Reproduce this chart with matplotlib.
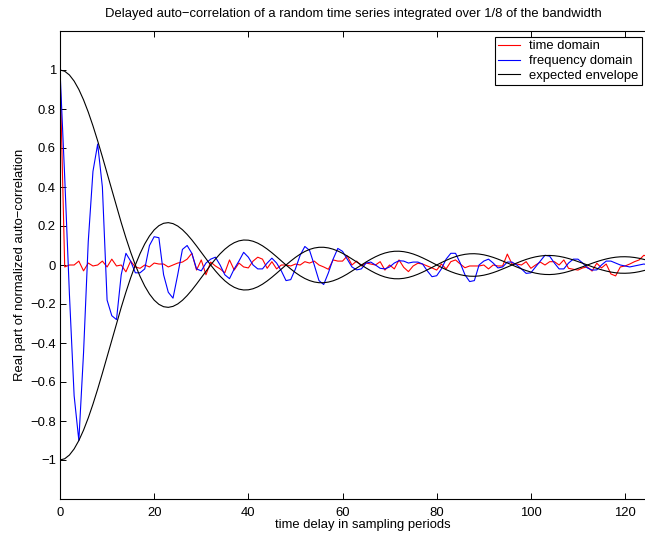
import matplotlib
matplotlib.use('Agg')
import matplotlib.pyplot as plt
from matplotlib.ticker import FuncFormatter

plt.rcParams['font.family'] = ['Liberation Sans', 'DejaVu Sans']
plt.rcParams['font.size'] = 9.4

# delays in sampling periods
lags = list(range(128))

# time domain estimate
time_dom = [1.0, -0.01, 0.0, 0.0, 0.02, -0.03, 0.01, -0.005, 0.0, 0.02,
            -0.01, 0.03, -0.005, 0.0, -0.035, 0.02, -0.01, -0.017, 0.0, -0.01,
            0.01, 0.005, 0.005, -0.01, 0.0, 0.01, 0.015, 0.03, 0.06, -0.026,
            0.026, -0.05, 0.015, -0.005, -0.02, -0.04, 0.026, -0.026, 0.01, -0.01,
            -0.015, 0.02, 0.04, 0.03, -0.017, 0.017, -0.02, 0.0, 0.0, -0.005,
            0.005, 0.0, 0.017, 0.01, 0.02, 0.0, -0.01, -0.022, 0.026, 0.02,
            0.02, 0.046, 0.0, 0.02, -0.005, 0.01, 0.005, 0.0, 0.017, -0.026,
            0.0, -0.02, 0.026, -0.012, -0.034, -0.005, 0.009, 0.005, -0.005, -0.015,
            -0.026, 0.005, -0.02, 0.017, 0.026, 0.005, -0.014, -0.005, -0.005, -0.005,
            0.0, -0.02, 0.0, -0.005, -0.005, 0.056, 0.005, 0.005, 0.0, 0.017,
            -0.017, 0.0, 0.015, 0.0, 0.017, 0.017, 0.0, 0.026, -0.017, -0.022,
            -0.026, -0.015, -0.01, -0.031, 0.009, -0.015, 0.005, -0.046, -0.056, -0.01,
            -0.005, 0.005, 0.017, 0.026, 0.05, 0.04, 0.02, 0.03]

# frequency domain estimate
freq_dom = [1.0, 0.45, -0.15, -0.67, -0.90, -0.45, 0.12, 0.48, 0.62, 0.40,
            -0.18, -0.26, -0.28, -0.05, 0.06, 0.02, -0.04, -0.04, -0.02, 0.10,
            0.145, 0.14, -0.05, -0.14, -0.17, -0.05, 0.08, 0.10, 0.06, -0.02,
            -0.03, 0.01, 0.03, 0.04, 0.0, -0.05, -0.07, -0.02, 0.02, 0.065,
            0.04, 0.0, -0.02, -0.02, 0.01, 0.035, 0.01, -0.03, -0.08, -0.075,
            -0.02, 0.05, 0.095, 0.075, 0.0, -0.08, -0.10, -0.04, 0.03, 0.085,
            0.07, 0.03, -0.01, -0.025, -0.02, 0.01, 0.015, 0.0, -0.017, -0.02,
            -0.01, 0.01, 0.022, 0.02, 0.01, 0.015, 0.015, 0.005, -0.03, -0.06,
            -0.055, -0.02, 0.03, 0.06, 0.06, 0.01, -0.05, -0.085, -0.08, 0.0,
            0.02, 0.03, 0.01, -0.015, -0.01, 0.015, 0.015, 0.0, -0.02, -0.043,
            -0.04, -0.01, 0.02, 0.05, 0.045, 0.01, -0.02, -0.02, 0.01, 0.03,
            0.03, 0.01, -0.015, -0.026, -0.025, 0.0, 0.02, 0.02, 0.01, 0.0,
            -0.005, -0.01, -0.005, 0.0, 0.005, 0.0, 0.01, 0.01]

# expected envelope
envelope = [1.0, 0.9936, 0.9745, 0.9432, 0.9003, 0.8469, 0.7842, 0.7136, 0.6366, 0.5550,
            0.4705, 0.3850, 0.3001, 0.2177, 0.1392, 0.0662, 0.0, -0.0584, -0.1083, -0.1489,
            -0.1801, -0.2017, -0.2139, -0.2172, -0.2122, -0.1998, -0.1810, -0.1568, -0.1286, -0.0976,
            -0.0650, -0.0321, 0.0, 0.0301, 0.0573, 0.0808, 0.1000, 0.1144, 0.1238, 0.1281,
            0.1273, 0.1218, 0.1120, 0.0985, 0.0818, 0.0629, 0.0424, 0.0211, 0.0, -0.0203,
            -0.0390, -0.0555, -0.0693, -0.0799, -0.0871, -0.0908, -0.0909, -0.0876, -0.0811, -0.0718,
            -0.0600, -0.0464, -0.0314, -0.0158, 0.0, 0.0153, 0.0295, 0.0422, 0.0530, 0.0614,
            0.0672, 0.0704, 0.0707, 0.0684, 0.0636, 0.0565, 0.0474, 0.0367, 0.0250, 0.0126,
            0.0, -0.0123, -0.0238, -0.0341, -0.0429, -0.0498, -0.0547, -0.0574, -0.0579, -0.0561,
            -0.0523, -0.0465, -0.0391, -0.0304, -0.0207, -0.0105, 0.0, 0.0102, 0.0199, 0.0286,
            0.0360, 0.0419, 0.0461, 0.0485, 0.0490, 0.0476, 0.0444, 0.0396, 0.0333, 0.0260,
            0.0177, 0.0090, 0.0, -0.0088, -0.0171, -0.0246, -0.0310, -0.0362, -0.0399, -0.0420,
            -0.0424, -0.0413, -0.0386, -0.0344, -0.0290, -0.0226, -0.0155, -0.0078]

x_ticks = [0, 20, 40, 60, 80, 100, 120]
y_ticks = [-1, -0.8, -0.6, -0.4, -0.2, 0, 0.2, 0.4, 0.6, 0.8, 1]

fig = plt.figure(figsize=(6.45, 5.37), dpi=100)
# axes run past the right edge of the figure, like the cropped original
ax = fig.add_axes([60 / 645, 38 / 537, 598 / 645, 468 / 537])

ax.plot(lags, time_dom, color='red', lw=0.8, label='time domain')
ax.plot(lags, freq_dom, color='blue', lw=0.8, label='frequency domain')
ax.plot(lags, envelope, color='black', lw=0.8, label='expected envelope')
ax.plot(lags, [-v for v in envelope], color='black', lw=0.8)

ax.set_xlim(0, 127)
ax.set_ylim(-1.2, 1.2)
ax.set_xticks(x_ticks)
ax.set_yticks(y_ticks)
ax.yaxis.set_major_formatter(FuncFormatter(lambda v, p: ('%g' % v).replace('-', '\u2212')))
ax.tick_params(direction='in', top=True, right=True, length=4, width=0.7)
ax.tick_params(axis='y', pad=3)
ax.tick_params(axis='x', pad=6)
for s in ax.spines.values():
    s.set_linewidth(0.8)

ax.set_xlabel('time delay in sampling periods')
ax.set_ylabel('Real part of normalized auto\u2212correlation')
ax.xaxis.set_label_coords((363 - 60) / 598, -(525 - 499) / 468)
ax.yaxis.set_label_coords(-(60 - 20) / 598, 0.5)
ax.xaxis.label.set_va('center')
ax.yaxis.label.set_va('center')
fig.text(353 / 645, 1 - 14 / 537,
         'Delayed auto\u2212correlation of a random time series integrated over 1/8 of the bandwidth',
         ha='center', va='center')

leg = ax.legend(loc='upper right', bbox_to_anchor=(642 / 645, 1 - 37 / 537),
                bbox_transform=fig.transFigure, fancybox=False, framealpha=1,
                edgecolor='black', borderpad=0.25, labelspacing=0.2,
                handlelength=1.7, handletextpad=0.7, borderaxespad=0)
leg.get_frame().set_linewidth(0.8)

fig.savefig('out.png', dpi=100)
